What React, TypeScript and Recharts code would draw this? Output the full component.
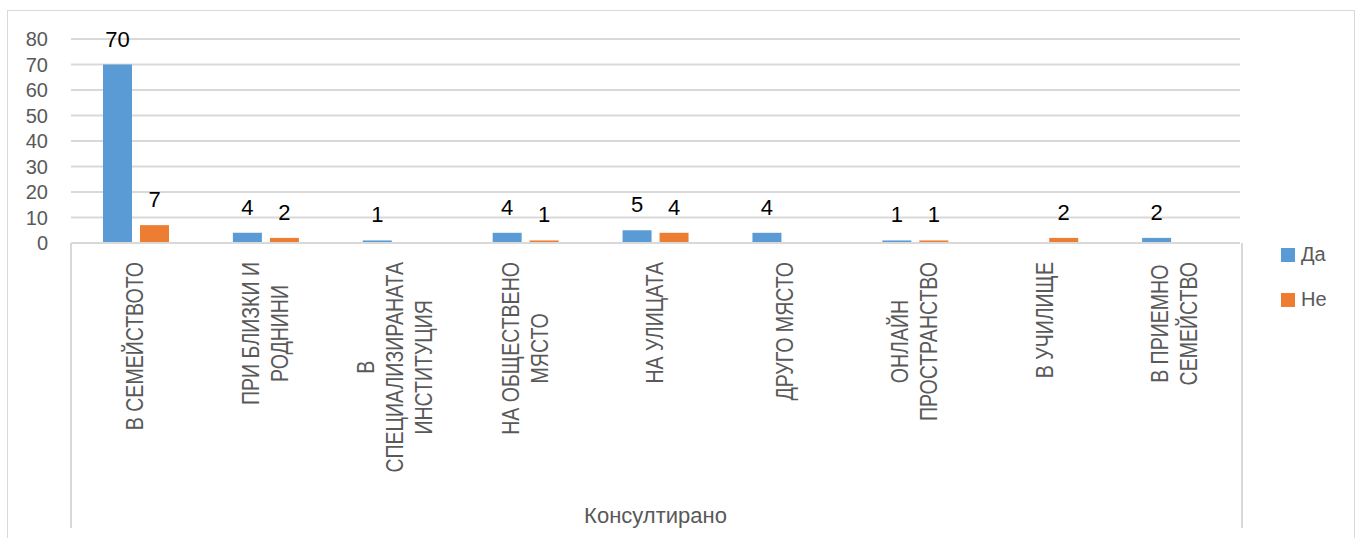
import React from 'react';
import { BarChart, Bar, XAxis, YAxis, CartesianGrid, LabelList } from 'recharts';

const categories = [
  'В СЕМЕЙСТВОТО',
  'ПРИ БЛИЗКИ И\nРОДНИНИ',
  'В\nСПЕЦИАЛИЗИРАНАТА\nИНСТИТУЦИЯ',
  'НА ОБЩЕСТВЕНО\nМЯСТО',
  'НА УЛИЦАТА',
  'ДРУГО МЯСТО',
  'ОНЛАЙН\nПРОСТРАНСТВО',
  'В УЧИЛИЩЕ',
  'В ПРИЕМНО\nСЕМЕЙСТВО',
];
const yesValues = [70, 4, 1, 4, 5, 4, 1, null, 2];
const noValues = [7, 2, null, 1, 4, null, 1, 2, null];
const yTicks = [0, 10, 20, 30, 40, 50, 60, 70, 80];

const seriesNames = { yes: 'Да', no: 'Не' };
const BLUE = '#5B9BD5';
const ORANGE = '#ED7D31';
const GRID = '#d9d9d9';
const TEXT = '#595959';
const FONT = "'Liberation Sans', Arial, sans-serif";
const CAT_SIZE = 23;
// category labels in the original are a narrow face; squeeze along the text direction
const SQ = 0.85;

const data = categories.map((name, i) => ({ name, yes: yesValues[i], no: noValues[i] }));

const W = 1357;
const H = 538;
const margin = { top: 39, right: 117, bottom: 9, left: 0 };
const Y_WIDTH = 71;
const X_HEIGHT = 286;

let ctx: CanvasRenderingContext2D | null = null;
const measure = (s: string) => {
  if (!ctx) ctx = document.createElement('canvas').getContext('2d');
  if (!ctx) return s.length * 14;
  ctx.font = `${CAT_SIZE}px ${FONT}`;
  return ctx.measureText(s).width;
};

const CategoryTick = (props: any) => {
  const { x, y, payload } = props;
  const lines = String(payload.value).split('\n');
  const maxW = Math.max(...lines.map(measure)) * SQ;
  const uc = -(19 + maxW / 2) / SQ;
  const L = 29;
  return (
    <g transform={`translate(${x},${y}) rotate(-90) scale(${SQ},1)`}>
      {lines.map((ln, i) => (
        <text
          key={i}
          x={uc}
          y={(i - (lines.length - 1) / 2) * L}
          textAnchor="middle"
          dominantBaseline="central"
          fontFamily={FONT}
          fontSize={CAT_SIZE}
          fill={TEXT}
        >
          {ln}
        </text>
      ))}
    </g>
  );
};

const LegendBox = () => (
  <div style={{ position: 'absolute', left: 1281, top: 232, fontFamily: FONT, fontSize: 20, color: TEXT }}>
    {[
      { name: seriesNames.yes, color: BLUE },
      { name: seriesNames.no, color: ORANGE },
    ].map((it) => (
      <div key={it.name} style={{ display: 'flex', alignItems: 'center', height: 45 }}>
        <span style={{ width: 14, height: 14, background: it.color, marginRight: 6, display: 'inline-block' }} />
        <span>{it.name}</span>
      </div>
    ))}
  </div>
);

export default function App() {
  const plotLeft = margin.left + Y_WIDTH;
  const plotRight = W - margin.right;
  const axisY = H - margin.bottom - X_HEIGHT;
  return (
    <div style={{ position: 'absolute', left: 0, top: 0, width: W, height: H, background: '#fff', overflow: 'hidden' }}>
      <div style={{ position: 'absolute', left: 7, top: 10, width: 1346, height: 540, border: `1px solid ${GRID}` }} />
      <div
        style={{
          position: 'absolute',
          left: plotLeft - 1,
          top: axisY,
          width: plotRight - plotLeft,
          height: X_HEIGHT - 1,
          borderLeft: `2px solid ${GRID}`,
          borderRight: `2px solid ${GRID}`,
        }}
      />
      <div style={{ position: 'absolute', left: 0, top: 0 }}>
        <BarChart width={W} height={H} data={data} margin={margin} barGap={8}>
          <CartesianGrid vertical={false} stroke={GRID} strokeWidth={2} />
          <XAxis
            dataKey="name"
            interval={0}
            height={X_HEIGHT}
            tickSize={0}
            tickMargin={0}
            axisLine={{ stroke: GRID, strokeWidth: 2 }}
            tickLine={false}
            tick={<CategoryTick />}
            label={{ value: 'Консултирано', position: 'insideBottom', offset: 6, fill: TEXT, fontSize: 22, fontFamily: FONT }}
          />
          <YAxis
            width={Y_WIDTH}
            domain={[0, 80]}
            ticks={yTicks}
            interval={0}
            axisLine={false}
            tickLine={false}
            tickSize={0}
            tickMargin={23}
            tick={{ fill: TEXT, fontSize: 20, fontFamily: FONT }}
          />
          <Bar dataKey="yes" name={seriesNames.yes} fill={BLUE} barSize={29} isAnimationActive={false}>
            <LabelList dataKey="yes" position="top" offset={18} fill="#000" fontSize={22} fontFamily={FONT} />
          </Bar>
          <Bar dataKey="no" name={seriesNames.no} fill={ORANGE} barSize={29} isAnimationActive={false}>
            <LabelList dataKey="no" position="top" offset={18} fill="#000" fontSize={22} fontFamily={FONT} />
          </Bar>
        </BarChart>
      </div>
      <LegendBox />
    </div>
  );
}
